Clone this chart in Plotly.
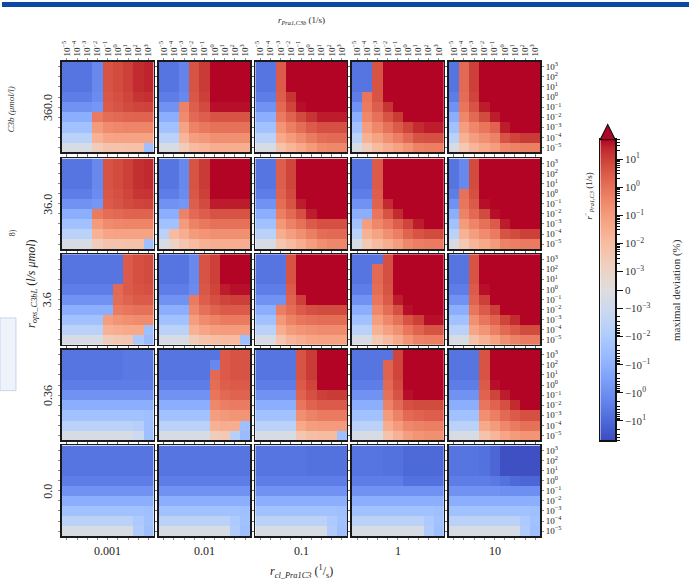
import math
import plotly.graph_objects as go

# ---------------- data ----------------
c3b_levels = ["360.0", "36.0", "3.6", "0.36", "0.0"]          # rows (r_ops_C3bL)
rcl_levels = ["0.001", "0.01", "0.1", "1", "10"]               # columns (r_cl_Pra1C3)
x_tick_labels = ["10<sup>−5</sup>", "10<sup>−4</sup>", "10<sup>−3</sup>", "10<sup>−2</sup>", "10<sup>−1</sup>",
                 "10<sup>0</sup>", "10<sup>1</sup>", "10<sup>2</sup>", "10<sup>3</sup>"]
y_tick_labels = ["10<sup>3</sup>", "10<sup>2</sup>", "10<sup>1</sup>", "10<sup>0</sup>", "10<sup>−1</sup>",
                 "10<sup>−2</sup>", "10<sup>−3</sup>", "10<sup>−4</sup>", "10<sup>−5</sup>"]
cbar_tick_labels = ["10<sup>1</sup>", "10<sup>0</sup>", "10<sup>−1</sup>", "10<sup>−2</sup>", "10<sup>−3</sup>", "0",
                    "−10<sup>−3</sup>", "−10<sup>−2</sup>", "−10<sup>−1</sup>", "−10<sup>0</sup>", "−10<sup>1</sup>"]
cbar_tick_values = [10, 1, 0.1, 0.01, 0.001, 0, -0.001, -0.01, -0.1, -1, -10]

# maximal deviation (%) ; rows: r_Pra1,C3 from 1e3 (top) to 1e-5 (bottom); cols: r_Pra1,C3b 1e-5 .. 1e3
dev_360_0001 = [
    [-5, -5, -5, -1.5, 4, 6, 10, 20, 25],
    [-5, -5, -5, -1.5, 4, 6, 10, 20, 25],
    [-5, -5, -5, -1.5, 4, 6, 10, 20, 25],
    [-3, -3, -3, -1.2, 3.5, 5, 8, 15, 18],
    [-0.8, -0.8, -0.8, -0.6, 3, 4, 6, 8, 9],
    [-0.12, -0.12, -0.12, 0.6, 1.2, 1.5, 1.8, 2, 2],
    [-0.025, -0.025, -0.025, 0.1, 0.25, 0.3, 0.35, 0.35, 0.35],
    [-0.004, -0.004, -0.004, 0.02, 0.05, 0.06, 0.06, 0.06, 0.06],
    [-0.0004, -0.0004, -0.0004, 0.002, 0.005, 0.005, 0.006, 0.006, -0.03]]
dev_360_001 = [
    [-5, -5, -2, 4, 12, 100, 100, 100, 100],
    [-5, -5, -2, 4, 12, 100, 100, 100, 100],
    [-5, -5, -2, 4, 12, 100, 100, 100, 100],
    [-3, -3, -1.5, 3.5, 10, 80, 80, 80, 80],
    [-0.8, -0.8, 0.4, 2.5, 6, 40, 40, 40, 40],
    [-0.12, -0.12, 0.25, 1.5, 2.5, 4, 4, 4, 4],
    [-0.025, -0.025, 0.06, 0.4, 0.7, 1, 1, 1, 1],
    [-0.004, -0.004, 0.015, 0.08, 0.12, 0.2, 0.2, 0.2, 0.2],
    [-0.0004, -0.0004, 0.002, 0.01, 0.015, 0.03, 0.03, 0.03, 0.03]]
dev_360_01 = [
    [-5, -5, 3, 100, 100, 100, 100, 100, 100],
    [-5, -5, 3, 100, 100, 100, 100, 100, 100],
    [-5, -5, 3, 100, 100, 100, 100, 100, 100],
    [-3, -3, 2.5, 15, 100, 100, 100, 100, 100],
    [-0.8, -0.8, 1.5, 8, 40, 100, 100, 100, 100],
    [-0.12, -0.12, 0.6, 2, 6, 15, 30, 30, 30],
    [-0.025, -0.025, 0.15, 0.5, 1.2, 3, 5, 5, 5],
    [-0.004, -0.004, 0.04, 0.1, 0.25, 0.6, 1.2, 1.5, 1.5],
    [-0.0004, -0.0004, 0.005, 0.015, 0.04, 0.1, 0.25, 0.3, 0.3]]
dev_360_1 = [
    [-5, -5, 4, 100, 100, 100, 100, 100, 100],
    [-5, -5, 4, 100, 100, 100, 100, 100, 100],
    [-5, -5, 4, 100, 100, 100, 100, 100, 100],
    [-3, 0.8, 4, 50, 100, 100, 100, 100, 100],
    [-0.8, 0.6, 2.5, 15, 60, 100, 100, 100, 100],
    [-0.12, 0.3, 1, 4, 12, 50, 100, 100, 100],
    [-0.025, 0.08, 0.3, 1, 3, 8, 20, 30, 30],
    [-0.004, 0.02, 0.06, 0.2, 0.5, 1.5, 4, 5, 5],
    [-0.0004, 0.002, 0.01, 0.03, 0.06, 0.15, 0.4, 0.5, 0.5]]
dev_360_10 = [
    [-5, 1.5, 10, 100, 100, 100, 100, 100, 100],
    [-5, 1.5, 10, 100, 100, 100, 100, 100, 100],
    [-5, 1.5, 10, 100, 100, 100, 100, 100, 100],
    [-3, 1.2, 8, 80, 100, 100, 100, 100, 100],
    [-0.8, 0.8, 4, 30, 100, 100, 100, 100, 100],
    [-0.12, 0.3, 1.5, 6, 30, 100, 100, 100, 100],
    [-0.025, 0.08, 0.3, 0.8, 2, 30, 100, 100, 100],
    [-0.004, 0.02, 0.08, 0.2, 0.4, 4, 8, 12, 12],
    [-0.0004, 0.003, 0.015, 0.04, 0.08, 0.3, 0.4, 0.5, 0.5]]

dev_36_0001 = [
    [-5, -5, -5, -1.5, 4, 6, 10, 18, 22],
    [-5, -5, -5, -1.5, 4, 6, 10, 18, 22],
    [-5, -5, -5, -1.5, 4, 6, 10, 18, 22],
    [-3, -3, -3, -1.2, 3.5, 5, 8, 14, 16],
    [-0.8, -0.8, -0.8, -0.6, 3, 4, 6, 8, 9],
    [-0.12, -0.12, -0.12, 0.6, 1.2, 1.5, 1.8, 2, 2],
    [-0.025, -0.025, -0.025, 0.1, 0.25, 0.3, 0.35, 0.35, 0.35],
    [-0.004, -0.004, -0.004, 0.02, 0.05, 0.06, 0.06, 0.06, 0.06],
    [-0.0004, -0.0004, -0.0004, 0.002, 0.005, 0.005, 0.006, 0.006, -0.03]]
dev_36_001 = [
    [-5, -5, -1.5, 4, 12, 100, 100, 100, 100],
    [-5, -5, -1.5, 4, 12, 100, 100, 100, 100],
    [-5, -5, -1.5, 4, 12, 100, 100, 100, 100],
    [-3, -3, -1.2, 3.5, 10, 80, 80, 80, 80],
    [-0.8, -0.8, -0.6, 2.5, 6, 30, 30, 30, 30],
    [-0.12, -0.12, 0.4, 1.5, 2.5, 4, 4, 4, 4],
    [-0.025, -0.025, 0.1, 0.4, 0.7, 1, 1, 1, 1],
    [-0.004, 0.01, 0.03, 0.1, 0.15, 0.2, 0.2, 0.2, 0.2],
    [-0.0004, 0.001, 0.004, 0.01, 0.02, 0.03, 0.03, 0.03, 0.03]]
dev_36_01 = [
    [-5, -5, 2.5, 8, 100, 100, 100, 100, 100],
    [-5, -5, 2.5, 8, 100, 100, 100, 100, 100],
    [-5, -5, 2.5, 8, 100, 100, 100, 100, 100],
    [-3, -3, 2, 6, 80, 100, 100, 100, 100],
    [-0.8, -0.8, 1.2, 4, 30, 100, 100, 100, 100],
    [-0.12, -0.12, 0.5, 1.5, 5, 30, 50, 50, 50],
    [-0.025, -0.025, 0.12, 0.4, 1, 3, 5, 5, 5],
    [-0.004, -0.004, 0.03, 0.08, 0.2, 0.5, 1.2, 1.5, 1.5],
    [-0.0004, -0.0004, 0.004, 0.01, 0.03, 0.08, 0.2, 0.3, 0.3]]
dev_36_1 = [
    [-5, -5, 3, 100, 100, 100, 100, 100, 100],
    [-5, -5, 3, 100, 100, 100, 100, 100, 100],
    [-5, -5, 3, 100, 100, 100, 100, 100, 100],
    [-3, -3, 2.5, 60, 100, 100, 100, 100, 100],
    [-0.8, -0.8, 2, 20, 80, 100, 100, 100, 100],
    [-0.12, -0.12, 0.8, 4, 20, 80, 100, 100, 100],
    [-0.025, 0.08, 0.3, 0.8, 2.5, 8, 30, 60, 60],
    [-0.004, 0.02, 0.06, 0.2, 0.5, 2, 4, 6, 6],
    [-0.0004, 0.003, 0.01, 0.03, 0.08, 0.3, 0.5, 0.6, 0.6]]
dev_36_10 = [
    [-5, -1.5, 6, 100, 100, 100, 100, 100, 100],
    [-5, -1.5, 6, 100, 100, 100, 100, 100, 100],
    [-5, -1.5, 6, 100, 100, 100, 100, 100, 100],
    [-3, 1, 5, 80, 100, 100, 100, 100, 100],
    [-0.8, 0.8, 3, 40, 100, 100, 100, 100, 100],
    [-0.12, 0.4, 1.5, 6, 40, 100, 100, 100, 100],
    [-0.025, 0.1, 0.35, 1, 3, 30, 100, 100, 100],
    [-0.004, 0.02, 0.08, 0.25, 0.6, 4, 6, 10, 10],
    [-0.0004, 0.003, 0.015, 0.04, 0.1, 0.4, 0.5, 0.6, 0.6]]

dev_3_6_0001 = [
    [-5, -5, -5, -5, -5, -5, 3, 5, 6],
    [-5, -5, -5, -5, -5, -5, 3, 5, 6],
    [-5, -5, -5, -5, -5, -5, 3, 5, 6],
    [-3, -3, -3, -3, -3, 1.5, 3, 4, 5],
    [-0.8, -0.8, -0.8, -0.8, -0.8, 1.2, 2, 3, 3],
    [-0.12, -0.12, -0.12, -0.12, -0.12, 0.6, 0.8, 1, 1],
    [-0.025, -0.025, -0.025, -0.025, 0.08, 0.15, 0.2, 0.25, 0.25],
    [-0.004, -0.004, -0.004, -0.004, 0.02, 0.03, 0.04, 0.04, -0.03],
    [-0.0004, -0.0004, -0.0004, -0.0004, 0.002, 0.003, 0.004, -0.01, -0.04]]
dev_3_6_001 = [
    [-5, -5, -5, -1.5, 4, 10, 60, 80, 80],
    [-5, -5, -5, -1.5, 4, 10, 60, 80, 80],
    [-5, -5, -5, -1.5, 4, 10, 60, 80, 80],
    [-3, -3, -3, -1.2, 3.5, 8, 30, 40, 40],
    [-0.8, -0.8, -0.8, 0.6, 2.5, 5, 8, 10, 10],
    [-0.12, -0.12, -0.12, 0.3, 1, 2, 3, 3, 3],
    [-0.025, -0.025, -0.025, 0.08, 0.25, 0.4, 0.6, 0.6, 0.6],
    [-0.004, -0.004, -0.004, 0.02, 0.05, 0.08, 0.1, 0.1, 0.1],
    [-0.0004, -0.0004, -0.0004, 0.002, 0.005, 0.008, 0.01, 0.01, -0.03]]
dev_3_6_01 = [
    [-5, -5, -5, 4, 100, 100, 100, 100, 100],
    [-5, -5, -5, 4, 100, 100, 100, 100, 100],
    [-5, -5, -5, 4, 100, 100, 100, 100, 100],
    [-3, -3, -3, 3, 60, 100, 100, 100, 100],
    [-0.8, -0.8, -0.8, 2, 10, 50, 50, 50, 50],
    [-0.12, -0.12, 0.5, 1.2, 3, 5, 6, 6, 6],
    [-0.025, -0.025, 0.12, 0.4, 0.8, 1, 1.2, 1.2, 1.2],
    [-0.004, -0.004, 0.03, 0.1, 0.15, 0.2, 0.25, 0.25, 0.25],
    [-0.0004, -0.0004, 0.004, 0.015, 0.03, 0.05, 0.06, 0.06, 0.06]]
dev_3_6_1 = [
    [-5, -5, -5, 5, 100, 100, 100, 100, 100],
    [-5, -5, 1.5, 5, 100, 100, 100, 100, 100],
    [-5, -5, 1.5, 5, 100, 100, 100, 100, 100],
    [-3, -3, 1.2, 4, 80, 100, 100, 100, 100],
    [-0.8, -0.8, 0.8, 3, 30, 100, 100, 100, 100],
    [-0.12, -0.12, 0.3, 1.2, 5, 40, 100, 100, 100],
    [-0.025, -0.025, 0.08, 0.3, 1, 4, 10, 40, 40],
    [-0.004, -0.004, 0.02, 0.07, 0.2, 0.8, 2, 4, 4],
    [-0.0004, -0.0004, 0.003, 0.01, 0.04, 0.15, 0.4, 0.5, 0.5]]
dev_3_6_10 = [
    [-5, -5, 4, 100, 100, 100, 100, 100, 100],
    [-5, -5, 4, 100, 100, 100, 100, 100, 100],
    [-5, -5, 4, 100, 100, 100, 100, 100, 100],
    [-3, -3, 3, 40, 100, 100, 100, 100, 100],
    [-0.8, -0.8, 2, 10, 60, 100, 100, 100, 100],
    [-0.12, -0.12, 0.8, 3, 10, 50, 100, 100, 100],
    [-0.025, -0.025, 0.2, 0.8, 2, 8, 20, 60, 60],
    [-0.004, -0.004, 0.05, 0.15, 0.5, 1.5, 3, 6, 6],
    [-0.0004, -0.0004, 0.006, 0.02, 0.06, 0.2, 0.4, 0.6, 0.6]]

dev_0_36_0001 = [
    [-5, -5, -5, -5, -5, -5, -4, -4, -4],
    [-5, -5, -5, -5, -5, -5, -4, -4, -4],
    [-5, -5, -5, -5, -5, -5, -4, -4, -4],
    [-3, -3, -3, -3, -3, -3, -3, -3, -3],
    [-0.8, -0.8, -0.8, -0.8, -0.8, -0.8, -0.8, -0.8, -0.8],
    [-0.12, -0.12, -0.12, -0.12, -0.12, -0.12, -0.12, -0.12, -0.12],
    [-0.025, -0.025, -0.025, -0.025, -0.025, -0.025, -0.025, -0.025, -0.03],
    [-0.004, -0.004, -0.004, -0.004, -0.004, -0.004, -0.004, -0.006, -0.03],
    [-0.0004, -0.0004, -0.0004, -0.0004, -0.0004, -0.0004, -0.0004, -0.001, -0.03]]
dev_0_36_001 = [
    [-5, -5, -5, -5, -5, -5, 3, 4, 4],
    [-5, -5, -5, -5, -5, -1.5, 3, 4, 4],
    [-5, -5, -5, -5, -5, 1.5, 3, 4, 4],
    [-3, -3, -3, -3, -3, 1.2, 2.5, 3, 3],
    [-0.8, -0.8, -0.8, -0.8, -0.8, 0.8, 1.5, 2, 2],
    [-0.12, -0.12, -0.12, -0.12, -0.12, 0.3, 0.5, 0.6, 0.6],
    [-0.025, -0.025, -0.025, -0.025, -0.025, 0.08, 0.12, 0.15, 0.15],
    [-0.004, -0.004, -0.004, -0.004, -0.004, 0.02, 0.03, 0.03, -0.03],
    [-0.0004, -0.0004, -0.0004, -0.0004, -0.0004, 0.002, 0.003, -0.005, -0.04]]
dev_0_36_01 = [
    [-5, -5, -5, -5, 4, 12, 100, 100, 100],
    [-5, -5, -5, -5, 4, 12, 100, 100, 100],
    [-5, -5, -5, -5, 4, 12, 100, 100, 100],
    [-3, -3, -3, -3, 3, 8, 60, 60, 60],
    [-0.8, -0.8, -0.8, -0.8, 2, 5, 10, 12, 12],
    [-0.12, -0.12, -0.12, -0.12, 0.8, 2, 3, 3, 3],
    [-0.025, -0.025, -0.025, -0.025, 0.2, 0.4, 0.6, 0.6, 0.6],
    [-0.004, -0.004, -0.004, -0.004, 0.04, 0.08, 0.1, 0.1, 0.1],
    [-0.0004, -0.0004, -0.0004, -0.0004, 0.004, 0.008, 0.01, 0.01, -0.03]]
dev_0_36_1 = [
    [-5, -5, -5, -5, 8, 100, 100, 100, 100],
    [-5, -5, -5, 2, 8, 100, 100, 100, 100],
    [-5, -5, -5, 2, 8, 100, 100, 100, 100],
    [-3, -3, -3, 1.5, 6, 100, 100, 100, 100],
    [-0.8, -0.8, -0.8, 1, 4, 40, 60, 60, 60],
    [-0.12, -0.12, -0.12, 0.4, 1.5, 5, 6, 6, 6],
    [-0.025, -0.025, -0.025, 0.1, 0.4, 1.5, 2, 2.5, 2.5],
    [-0.004, -0.004, -0.004, 0.03, 0.1, 0.3, 0.4, 0.5, 0.5],
    [-0.0004, -0.0004, -0.0004, 0.005, 0.02, 0.08, 0.15, 0.2, 0.2]]
dev_0_36_10 = [
    [-5, -5, -5, 4, 100, 100, 100, 100, 100],
    [-5, -5, -5, 4, 100, 100, 100, 100, 100],
    [-5, -5, -5, 4, 100, 100, 100, 100, 100],
    [-3, -3, -3, 3, 40, 100, 100, 100, 100],
    [-0.8, -0.8, -0.8, 2, 8, 30, 100, 100, 100],
    [-0.12, -0.12, -0.12, 0.8, 2, 5, 20, 60, 60],
    [-0.025, -0.025, -0.025, 0.2, 0.5, 1.5, 3, 5, 5],
    [-0.004, -0.004, -0.004, 0.04, 0.1, 0.3, 0.6, 1, 1],
    [-0.0004, -0.0004, -0.0004, 0.005, 0.015, 0.05, 0.1, 0.15, 0.15]]

dev_0_0001 = [
    [-5, -5, -5, -5, -5, -5, -5, -5, -5],
    [-5, -5, -5, -5, -5, -5, -5, -5, -5],
    [-5, -5, -5, -5, -5, -5, -5, -5, -5],
    [-3, -3, -3, -3, -3, -3, -3, -3, -3],
    [-0.8, -0.8, -0.8, -0.8, -0.8, -0.8, -0.8, -0.8, -0.8],
    [-0.12, -0.12, -0.12, -0.12, -0.12, -0.12, -0.12, -0.12, -0.12],
    [-0.025, -0.025, -0.025, -0.025, -0.025, -0.025, -0.025, -0.025, -0.03],
    [-0.004, -0.004, -0.004, -0.004, -0.004, -0.004, -0.004, -0.01, -0.025],
    [-0.0004, -0.0004, -0.0004, -0.0004, -0.0004, -0.0004, -0.0004, -0.008, -0.03]]
dev_0_001 = [
    [-5, -5, -5, -5, -5, -5, -5, -5, -5],
    [-5, -5, -5, -5, -5, -5, -5, -5, -5],
    [-5, -5, -5, -5, -5, -5, -5, -5, -5],
    [-3, -3, -3, -3, -3, -3, -3, -3, -3],
    [-0.8, -0.8, -0.8, -0.8, -0.8, -0.8, -0.8, -0.8, -0.8],
    [-0.12, -0.12, -0.12, -0.12, -0.12, -0.12, -0.12, -0.12, -0.12],
    [-0.025, -0.025, -0.025, -0.025, -0.025, -0.025, -0.025, -0.025, -0.03],
    [-0.004, -0.004, -0.004, -0.004, -0.004, -0.004, -0.004, -0.01, -0.025],
    [-0.0004, -0.0004, -0.0004, -0.0004, -0.0004, -0.0004, -0.0004, -0.008, -0.03]]
dev_0_01 = [
    [-5, -5, -5, -5, -5, -6, -6, -6, -6],
    [-5, -5, -5, -5, -5, -6, -6, -6, -6],
    [-5, -5, -5, -5, -5, -6, -6, -6, -6],
    [-3, -3, -3, -3, -3, -3, -3, -3, -3],
    [-0.8, -0.8, -0.8, -0.8, -0.8, -0.8, -0.8, -0.8, -0.8],
    [-0.12, -0.12, -0.12, -0.12, -0.12, -0.12, -0.12, -0.12, -0.12],
    [-0.025, -0.025, -0.025, -0.025, -0.025, -0.025, -0.025, -0.025, -0.03],
    [-0.004, -0.004, -0.004, -0.004, -0.004, -0.004, -0.004, -0.01, -0.025],
    [-0.0004, -0.0004, -0.0004, -0.0004, -0.0004, -0.0004, -0.0004, -0.008, -0.03]]
dev_0_1 = [
    [-5, -5, -5, -6, -6, -10, -10, -10, -10],
    [-5, -5, -5, -6, -6, -10, -10, -10, -10],
    [-5, -5, -5, -6, -6, -10, -10, -10, -10],
    [-3, -3, -3, -3, -3, -6, -6, -6, -6],
    [-0.8, -0.8, -0.8, -0.8, -0.8, -0.8, -0.8, -0.8, -0.8],
    [-0.12, -0.12, -0.12, -0.12, -0.12, -0.12, -0.12, -0.12, -0.12],
    [-0.025, -0.025, -0.025, -0.025, -0.025, -0.025, -0.025, -0.025, -0.03],
    [-0.004, -0.004, -0.004, -0.004, -0.004, -0.004, -0.004, -0.01, -0.025],
    [-0.0004, -0.0004, -0.0004, -0.0004, -0.0004, -0.0004, -0.0004, -0.008, -0.03]]
dev_0_10 = [
    [-5, -5, -5, -6, -12, -40, -40, -40, -40],
    [-5, -5, -5, -6, -12, -40, -40, -40, -40],
    [-5, -5, -5, -6, -12, -40, -40, -40, -40],
    [-3, -3, -3, -3, -4, -6, -10, -12, -12],
    [-0.8, -0.8, -0.8, -0.8, -0.8, -1, -1, -1, -1],
    [-0.12, -0.12, -0.12, -0.12, -0.12, -0.12, -0.12, -0.12, -0.12],
    [-0.025, -0.025, -0.025, -0.025, -0.025, -0.025, -0.025, -0.025, -0.03],
    [-0.004, -0.004, -0.004, -0.004, -0.004, -0.004, -0.004, -0.01, -0.025],
    [-0.0004, -0.0004, -0.0004, -0.0004, -0.0004, -0.0004, -0.0004, -0.008, -0.03]]

panels = [
    [dev_360_0001, dev_360_001, dev_360_01, dev_360_1, dev_360_10],
    [dev_36_0001, dev_36_001, dev_36_01, dev_36_1, dev_36_10],
    [dev_3_6_0001, dev_3_6_001, dev_3_6_01, dev_3_6_1, dev_3_6_10],
    [dev_0_36_0001, dev_0_36_001, dev_0_36_01, dev_0_36_1, dev_0_36_10],
    [dev_0_0001, dev_0_001, dev_0_01, dev_0_1, dev_0_10],
]

# ---------------- symlog colour normalisation ----------------
LINTHRESH = 1e-3
LINSCALE = 0.66
VMAX = 50.0


def symlog(v):
    a = abs(v)
    if a <= LINTHRESH:
        return v / LINTHRESH * LINSCALE
    return math.copysign(LINSCALE + math.log10(a / LINTHRESH), v)


SMAX = symlog(VMAX)

coolwarm = [
    (59, 76, 192), (68, 90, 204), (77, 104, 215), (87, 117, 225), (98, 130, 234), (108, 142, 241),
    (119, 154, 247), (130, 165, 251), (141, 176, 254), (152, 185, 255), (163, 194, 255), (174, 201, 253),
    (184, 208, 249), (194, 213, 244), (204, 217, 238), (213, 219, 230), (221, 221, 221), (229, 216, 209),
    (236, 211, 197), (241, 204, 185), (245, 196, 173), (247, 187, 160), (247, 177, 148), (247, 166, 135),
    (244, 154, 123), (241, 141, 111), (236, 127, 99), (229, 112, 88), (222, 96, 77), (213, 80, 66),
    (203, 62, 56), (192, 40, 47), (180, 4, 38)]
colorscale = [[i / (len(coolwarm) - 1), "rgb(%d,%d,%d)" % c] for i, c in enumerate(coolwarm)]

W, H = 689, 582
def px(x):
    return x / W
def py(y):
    return 1 - y / H

col_left = [60, 157, 254, 351, 448]
row_top = [60, 157, 253, 349, 445]
PW, PH = 92, 91
SERIF = "Liberation Serif, DejaVu Serif, serif"

fig = go.Figure()
layout_axes = {}
idx = list(range(9))
for i in range(5):
    for j in range(5):
        n = i * 5 + j + 1
        z = [[min(max(symlog(v), -SMAX), SMAX) for v in row] for row in panels[i][j]]
        fig.add_trace(go.Heatmap(
            z=z, x=idx, y=idx, coloraxis="coloraxis",
            xaxis="x" if n == 1 else "x%d" % n, yaxis="y" if n == 1 else "y%d" % n,
            hoverinfo="skip"))
        xa = dict(domain=[px(col_left[j]), px(col_left[j] + PW)], range=[-0.5, 8.5],
                  anchor="y" if n == 1 else "y%d" % n, side="top",
                  showline=True, linewidth=1.5, linecolor="#1a1a1a", mirror="allticks",
                  ticks="outside", ticklen=2, tickwidth=0.7, tickcolor="#555",
                  tickvals=idx, ticktext=x_tick_labels, showticklabels=(i == 0),
                  tickangle=-90, tickfont=dict(family=SERIF, size=9, color="#222"),
                  showgrid=False, zeroline=False, fixedrange=True)
        ya = dict(domain=[py(row_top[i] + PH), py(row_top[i])], range=[8.5, -0.5],
                  anchor="x" if n == 1 else "x%d" % n, side="right",
                  showline=True, linewidth=1.5, linecolor="#1a1a1a", mirror="allticks",
                  ticks="outside", ticklen=2, tickwidth=0.7, tickcolor="#555",
                  tickvals=idx, ticktext=y_tick_labels, showticklabels=(j == 4),
                  tickfont=dict(family=SERIF, size=9, color="#222"),
                  showgrid=False, zeroline=False, fixedrange=True)
        layout_axes["xaxis" if n == 1 else "xaxis%d" % n] = xa
        layout_axes["yaxis" if n == 1 else "yaxis%d" % n] = ya

# ---- manual colorbar ----
NSTEP = 301
cb_vals = [-SMAX + 2 * SMAX * k / (NSTEP - 1) for k in range(NSTEP)]
fig.add_trace(go.Heatmap(z=[[v] for v in cb_vals], x=[0], y=cb_vals, coloraxis="coloraxis",
                         xaxis="x26", yaxis="y26", hoverinfo="skip"))
minor_vals = []
for k in range(-3, 2):
    for m in range(2, 10):
        v = m * 10 ** k
        if v <= VMAX:
            minor_vals += [symlog(v), symlog(-v)]
CB_X0, CB_X1, CB_Y0, CB_Y1 = 600, 615, 138, 440
layout_axes["xaxis26"] = dict(domain=[px(CB_X0), px(CB_X1)], range=[-0.5, 0.5], anchor="y26",
                              showline=True, linewidth=1.5, linecolor="#111", mirror=True,
                              showticklabels=False, ticks="", showgrid=False, zeroline=False, fixedrange=True)
layout_axes["yaxis26"] = dict(domain=[py(CB_Y1), py(CB_Y0)], range=[-SMAX, SMAX], anchor="x26", side="right",
                              showline=True, linewidth=1.5, linecolor="#111", mirror=True,
                              tickvals=[symlog(v) for v in cbar_tick_values], ticktext=cbar_tick_labels,
                              ticks="outside", ticklen=6, tickwidth=1, tickcolor="#111",
                              minor=dict(tickvals=minor_vals, ticks="outside", ticklen=3, tickwidth=1, tickcolor="#111"),
                              tickfont=dict(family=SERIF, size=11, color="#333"),
                              showgrid=False, zeroline=False, fixedrange=True)

annotations = []
def ann(text, x, y, size, angle=0, color="#222", xanchor="center", yanchor="middle"):
    annotations.append(dict(text=text, x=px(x), y=py(y), xref="paper", yref="paper", showarrow=False,
                            textangle=angle, xanchor=xanchor, yanchor=yanchor,
                            font=dict(family=SERIF, size=size, color=color)))

for j, lab in enumerate(rcl_levels):
    ann(lab, col_left[j] + PW / 2, 551, 12)
for i, lab in enumerate(c3b_levels):
    ann(lab, 46, row_top[i] + PH / 2, 12, angle=-90)
ann("<i>r</i><sub><i>cl_Pra1C3</i></sub> (<sup>1</sup>/<sub>s</sub>)", 300, 571, 12)
ann("<i>r</i><sub><i>Pra1,C3b</i></sub> (1/s)", 300, 19, 9)
ann("<i>r</i><sub><i>ops_C3bL</i></sub> (<i>l/s μmol</i>)", 30, 282, 12, angle=-90)
ann("<i>r</i><sup>−</sup><sub><i>Pra1,C3</i></sub> (1/s)", 588, 195, 9, angle=-90)
ann("maximal deviation (%)", 676, 289, 11, angle=-90, color="#333")
# partial labels of the surrounding page
ann("<i>C3b (μmol/l)</i>", 9, 108, 9, angle=-90, color="#333")
ann("8)", 10, 231, 8, angle=-90, color="#333")

shapes = [
    dict(type="rect", xref="paper", yref="paper", x0=px(0), x1=px(W), y0=py(5), y1=py(0),
         fillcolor="#0c49a4", line=dict(width=0), layer="above"),
    dict(type="rect", xref="paper", yref="paper", x0=px(-2), x1=px(14), y0=py(390), y1=py(317),
         fillcolor="#eef2fa", line=dict(width=1, color="#c9d5ec"), layer="below"),
    dict(type="path", xref="paper", yref="paper",
         path="M %f %f L %f %f L %f %f Z" % (px(CB_X0), py(CB_Y0), px(CB_X1), py(CB_Y0),
                                              px((CB_X0 + CB_X1) / 2), py(123)),
         fillcolor="rgb(180,4,38)", line=dict(width=1.2, color="#111"), layer="above"),
]

fig.update_layout(
    width=W, height=H, autosize=False,
    margin=dict(l=0, r=0, t=0, b=0),
    paper_bgcolor="white", plot_bgcolor="white",
    coloraxis=dict(colorscale=colorscale, cmin=-SMAX, cmax=SMAX, showscale=False),
    annotations=annotations, shapes=shapes, showlegend=False,
    **layout_axes)

fig.write_html("out.html", config={"displayModeBar": False, "staticPlot": True},
               post_script="document.body.style.margin='0';document.body.style.padding='0';")
